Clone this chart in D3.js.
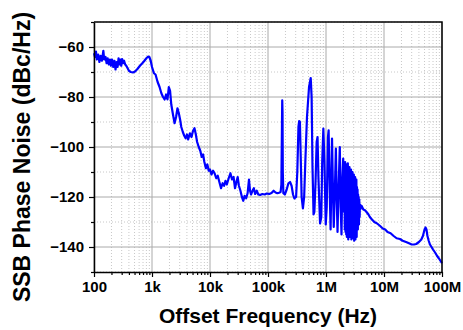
<!DOCTYPE html>
<html>
<head>
<meta charset="utf-8">
<script src="https://cdn.jsdelivr.net/npm/d3@7/dist/d3.min.js"></script>
<style>
  body { margin: 0; background: #fff; }
  text { font-family: "Liberation Sans", Arial, sans-serif; font-weight: bold; fill: #000; }
</style>
</head>
<body>
<div class="chart"></div>
<script>
// offset frequency (Hz) and SSB phase noise (dBc/Hz)
const freqHz = [
  100, 104, 108, 112, 118, 124, 130, 137, 145, 150, 158, 165, 172, 180, 188, 196,
  205, 215, 225, 235, 245, 255, 265, 275, 285, 295, 305, 315, 330, 345, 360, 380,
  400, 430, 470, 510, 560, 620, 680, 740, 800, 860, 900, 950, 1000, 1080, 1150, 1250,
  1350, 1450, 1550, 1650, 1750, 1850, 1950, 2050, 2150, 2300, 2450, 2600, 2750, 2900,
  3050, 3200, 3400, 3600, 3800, 4000, 4200, 4500, 4800, 5100, 5400, 5700, 6000, 6400,
  6800, 7200, 7600, 8000, 8500, 9000, 9500, 10000, 10600, 11300, 12000, 12800, 13600,
  14500, 15500, 16500, 17500, 18500, 19500, 21000, 22500, 24000, 25500, 27000, 28500,
  30000, 31500, 33500, 35500, 37500, 39500, 42000, 44500, 47000, 49000, 51000, 54000,
  57000, 60000, 64000, 68000, 73000, 80000, 88000, 95000, 105000, 115000, 125000,
  135000, 145000, 155000, 165000, 170000, 174000, 176000, 178000, 180000, 184000,
  195000, 210000, 225000, 240000, 255000, 270000, 285000, 305000, 320000, 335000,
  345000, 355000, 365000, 380000, 400000, 420000, 440000, 470000, 510000, 545000,
  565000, 585000, 610000, 630000, 660000, 690000, 715000, 740000, 790000, 830000,
  860000, 900000, 940000, 990000, 1030000, 1080000, 1110000, 1160000, 1200000,
  1240000, 1270000, 1310000, 1360000, 1420000, 1480000, 1530000, 1580000, 1650000,
  1730000, 1790000, 1850000, 1920000, 1980000, 2050000,
  2080000, 2110000, 2140000, 2170000, 2200000, 2230000, 2260000, 2290000, 2320000,
  2350000, 2380000, 2420000, 2460000, 2500000, 2540000, 2580000, 2620000, 2660000,
  2700000, 2740000, 2780000, 2820000, 2860000, 2900000, 2940000, 2980000, 3020000,
  3060000, 3100000, 3140000, 3180000, 3220000, 3260000, 3300000, 3340000, 3380000,
  3420000, 3460000, 3500000, 3540000, 3580000, 3620000, 3660000, 3700000, 3750000,
  3800000, 3850000, 3900000,
  4.1e6, 4.4e6, 4.7e6, 5.0e6, 5.4e6, 5.7e6, 6.2e6, 6.8e6, 7.5e6, 8.5e6, 9.5e6,
  10.5e6, 11.5e6, 13e6, 14.5e6, 16.5e6, 18.8e6, 21e6, 24e6, 27e6, 30e6, 33e6, 36e6,
  40e6, 44e6, 47e6, 50e6, 52e6, 54e6, 56e6, 59e6, 62e6, 66e6, 70e6, 76e6, 82e6,
  88e6, 94e6, 100e6
];
const noiseDb = [
  -62.5, -64, -61.8, -65, -63, -66, -63.5, -65.5, -61.5, -65, -64, -66.5, -64.5, -67, -65, -67.5,
  -65, -68, -65.5, -69, -66, -68, -64.5, -67, -65, -67.5, -64.8, -66.5, -65.5, -67, -67.5, -68.5,
  -69.5, -70, -70.2, -69.8, -68.8, -67.5, -66.5, -65.5, -64.5, -63.8, -64, -65.5, -68, -70.5, -71, -74,
  -76, -78.5, -80, -81, -79, -81, -76, -77.5, -83, -87, -90.5, -88, -84.5, -86.5,
  -89, -92, -94, -95.5, -96.5, -95, -97, -94.5, -96, -93.5, -92.5, -95, -98, -100,
  -101.5, -104, -103, -106, -108.5, -107, -109.5, -109, -111, -109.5, -110.5, -112.5, -111.5,
  -114, -116.5, -114.5, -115.5, -113.5, -115, -112.5, -110.5, -113, -112, -116.5, -114,
  -112, -115.5, -117.5, -120, -121.5, -119.5, -120.5, -118.5, -113, -117.5, -119, -117.5,
  -116.5, -118.8, -117.5, -119, -119.2, -118.8, -119, -118.6, -118.8, -118.4, -117.5,
  -118.2, -118.5, -118.3, -118, -115, -92, -81.3, -86, -110, -118.5,
  -119, -117, -114.5, -114, -115.5, -119, -120.6, -120, -110, -92,
  -89.6, -90, -102, -120, -124.6, -120, -106, -88, -76, -72.4,
  -80, -108, -127, -126, -114, -98, -96, -112, -130.6, -128,
  -106, -92.6, -106, -131, -124, -96, -93.3, -118, -133,
  -112, -96.6, -114, -132, -118, -100.6, -120, -134, -116,
  -100, -124, -135, -112, -104.6, -126,
  -110, -133, -106, -134, -108, -135, -107, -136, -109,
  -134, -106.5, -137, -110, -135, -108, -136, -111, -133,
  -109, -137, -112, -135, -110, -136.5, -113, -134, -111,
  -137.5, -114, -135, -112, -137, -115, -134, -113, -136,
  -116, -132, -117, -133, -119, -130, -120, -131, -121,
  -128, -123, -125,
  -123.5, -125, -125.3, -126, -127, -128, -129, -130, -130.5, -131.5, -132.6,
  -133, -134, -134.5, -135.5, -136.5, -136.8, -137.5, -138, -138.5, -139, -139, -138.8,
  -138, -137, -135.5, -133, -132.2, -133, -135.5, -137.5, -139, -140, -141, -142.2, -143.5,
  -144.5, -145.5, -146.5
];

const xMajor = [1e2, 1e3, 1e4, 1e5, 1e6, 1e7, 1e8];
const xTickLabels = ["100", "1k", "10k", "100k", "1M", "10M", "100M"];
const yMajor = [-60, -80, -100, -120, -140];
const yMinor = [-50, -70, -90, -110, -130, -150];

const W = 463, H = 330;
const margin = { top: 22, right: 21, bottom: 58, left: 94 };
const width = W - margin.left - margin.right;
const height = H - margin.top - margin.bottom;

const x = d3.scaleLog().domain([1e2, 1e8]).range([0, width]);
const y = d3.scaleLinear().domain([-150, -50]).range([height, 0]);

// 2..9 in every decade
const xMinor = [];
xMajor.slice(0, -1).forEach(d => d3.range(2, 10).forEach(k => xMinor.push(d * k)));

const svg = d3.select(".chart").append("svg")
  .attr("width", W)
  .attr("height", H);
const g = svg.append("g")
  .attr("transform", "translate(" + margin.left + "," + margin.top + ")");

// grid
g.append("g").selectAll("line").data(xMinor).join("line")
  .attr("x1", d => x(d)).attr("x2", d => x(d))
  .attr("y1", 0).attr("y2", height)
  .attr("stroke", "#c8c8c8").attr("stroke-dasharray", "1,2");
g.append("g").selectAll("line").data(yMinor).join("line")
  .attr("y1", d => y(d)).attr("y2", d => y(d))
  .attr("x1", 0).attr("x2", width)
  .attr("stroke", "#c8c8c8").attr("stroke-dasharray", "1,2");
g.append("g").selectAll("line").data(xMajor).join("line")
  .attr("x1", d => x(d)).attr("x2", d => x(d))
  .attr("y1", 0).attr("y2", height)
  .attr("stroke", "#aaa");
g.append("g").selectAll("line").data(yMajor).join("line")
  .attr("y1", d => y(d)).attr("y2", d => y(d))
  .attr("x1", 0).attr("x2", width)
  .attr("stroke", "#aaa");

// trace
const data = freqHz.map((f, i) => [f, noiseDb[i]]);
g.append("path")
  .datum(data)
  .attr("fill", "none")
  .attr("stroke", "#0000ff")
  .attr("stroke-width", 2.2)
  .attr("stroke-linejoin", "round")
  .attr("d", d3.line().x(d => x(d[0])).y(d => y(d[1])));

// frame top/right
g.append("path")
  .attr("d", "M0,0H" + width + "V" + height)
  .attr("fill", "none").attr("stroke", "#000").attr("stroke-width", 1.5);

// axes
const xAxis = g.append("g").attr("transform", "translate(0," + height + ")")
  .call(d3.axisBottom(x).tickValues(xMajor).tickSize(5).tickSizeOuter(0).tickPadding(4)
    .tickFormat((d, i) => xTickLabels[i]));
g.append("g").attr("transform", "translate(0," + height + ")")
  .call(d3.axisBottom(x).tickValues(xMinor).tickSize(3).tickFormat(""))
  .select(".domain").remove();

const yAxis = g.append("g")
  .call(d3.axisLeft(y).tickValues(yMajor).tickSize(5).tickSizeOuter(0).tickPadding(5));
g.append("g")
  .call(d3.axisLeft(y).tickValues(yMinor).tickSize(3).tickFormat(""))
  .select(".domain").remove();

g.selectAll(".domain").attr("stroke", "#000").attr("stroke-width", 1.5);
g.selectAll(".tick line").attr("stroke", "#000").attr("stroke-width", 1.2);
xAxis.selectAll("text").attr("font-size", 15).attr("font-family", "Liberation Sans, Arial, sans-serif");
yAxis.selectAll("text").attr("font-size", 15).attr("font-family", "Liberation Sans, Arial, sans-serif");

// titles
svg.append("text")
  .attr("x", margin.left + width / 2)
  .attr("y", 323)
  .attr("text-anchor", "middle")
  .attr("font-size", 21)
  .text("Offset Frequency (Hz)");
svg.append("text")
  .attr("transform", "translate(30," + (margin.top + height / 2 + 10) + ") rotate(-90)")
  .attr("text-anchor", "middle")
  .attr("font-size", 23)
  .text("SSB Phase Noise (dBc/Hz)");
</script>
</body>
</html>
